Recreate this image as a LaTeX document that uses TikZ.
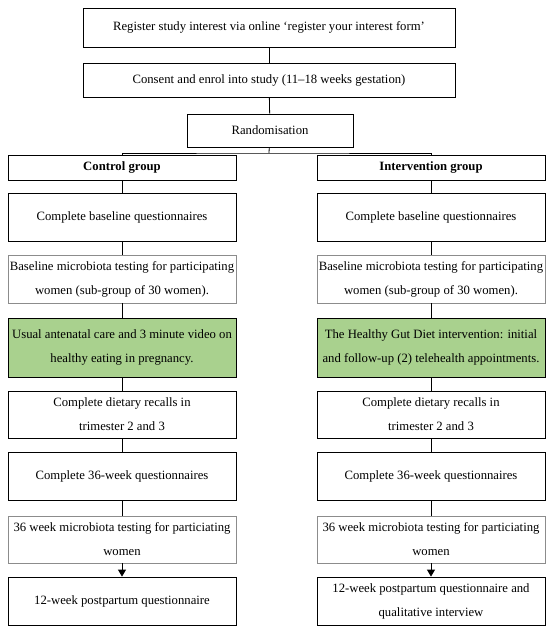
\documentclass[tikz,border=0pt]{standalone}
\usepackage{fontspec}
\setmainfont{Liberation Serif}
\usepackage{tikz}
\usetikzlibrary{arrows.meta}
\definecolor{gutgreen}{HTML}{A9D18E}
\definecolor{testgrey}{HTML}{8C8C8C}

\begin{document}
\begin{tikzpicture}[
        x=1pt,y=-1pt,
        font=\fontsize{12.7}{24}\selectfont,
        bx/.style={draw,line width=0.8pt,align=center,inner sep=0pt},
        wide/.style={bx,minimum width=372pt},
        col/.style={bx,minimum width=228pt},
        testbx/.style={col,draw=testgrey},
        carebx/.style={col,fill=gutgreen},
        link/.style={line width=0.8pt}
      ]
      \useasboundingbox (0,0) rectangle (550,632);
      % enrolment
      \node[wide,minimum height=39pt] (reg) at (269,27.5) {Register study interest via online ‘register your interest form’};
      \node[wide,minimum height=34pt] (cons) at (269,80) {Consent and enrol into study (11–18 weeks gestation)};
      \node[bx,minimum width=166pt,minimum height=33pt] (rand) at (270,130.5) {Randomisation};
      \coordinate (fork) at (269,153);
      % control arm
      \node[col,minimum height=25pt] (cgrp) at (122,167.5) {\textbf{Control group}};
      \node[col,minimum height=48pt] (cbase) at (122,217) {Complete baseline questionnaires};
      \node[testbx,minimum height=48pt] (cmic) at (122,279) {Baseline microbiota testing for participating\\women (sub-group of 30 women).};
      \node[carebx,minimum height=59pt] (ccare) at (122,347.5) {Usual antenatal care and 3 minute video on\\healthy eating in pregnancy.};
      \node[col,minimum height=47pt] (cdiet) at (122,414.5) {Complete dietary recalls in\\trimester 2 and 3};
      \node[col,minimum height=48pt] (cqs) at (122,476) {Complete 36-week questionnaires};
      \node[testbx,minimum height=47pt] (cmicend) at (122,539.5) {36 week microbiota testing for particiating\\women};
      \node[col,minimum height=48pt] (cpost) at (122,601) {12-week postpartum questionnaire};
      % intervention arm
      \node[col,minimum height=25pt] (igrp) at (431,167.5) {\textbf{Intervention group}};
      \node[col,minimum height=48pt] (ibase) at (431,217) {Complete baseline questionnaires};
      \node[testbx,minimum height=48pt] (imic) at (431,279) {Baseline microbiota testing for participating\\women (sub-group of 30 women).};
      \node[carebx,minimum height=59pt] (icare) at (431,347.5) {The Healthy Gut Diet intervention: initial\\and follow-up (2) telehealth appointments.};
      \node[col,minimum height=47pt] (idiet) at (431,414.5) {Complete dietary recalls in\\trimester 2 and 3};
      \node[col,minimum height=48pt] (iqs) at (431,476) {Complete 36-week questionnaires};
      \node[testbx,minimum height=47pt] (imicend) at (431,539.5) {36 week microbiota testing for particiating\\women};
      \node[col,minimum height=48pt] (ipost) at (431,601) {12-week postpartum questionnaire and\\qualitative interview};
      % connectors
      \draw[link] (reg) -- (cons);
      \draw[link] (cons) -- (rand);
      \draw[link] (rand) -- (fork);
      \draw[link] (cgrp.north) |- (fork) -| (igrp.north);
      \foreach \s in {c,i} {
        \draw[link] (\s grp) -- (\s base);
        \draw[link] (\s base) -- (\s mic);
        \draw[link] (\s mic) -- (\s care);
        \draw[link] (\s care) -- (\s diet);
        \draw[link] (\s diet) -- (\s qs);
        \draw[link] (\s qs) -- (\s micend);
        \draw[link,-{Triangle[width=8pt,length=7pt]}] (\s micend) -- (\s post);
      }
    \end{tikzpicture}
\end{document}
